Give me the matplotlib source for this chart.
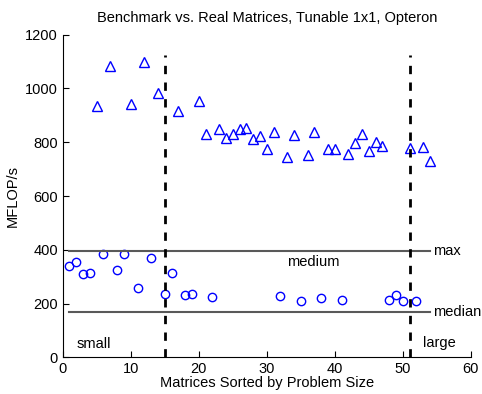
import matplotlib
matplotlib.use('Agg')
import matplotlib.pyplot as plt

plt.rcParams['font.family'] = ['Liberation Sans', 'DejaVu Sans']

# matrices where the benchmark is above / below
tri_x = [5, 7, 10, 12, 14, 17, 20, 21, 23, 24, 25, 26, 27, 28, 29, 30, 31,
         33, 34, 36, 37, 39, 40, 42, 43, 44, 45, 46, 47, 51, 53, 54]
tri_y = [935, 1082, 942, 1099, 983, 917, 955, 829, 851, 817, 832, 848, 854,
         811, 825, 775, 839, 746, 826, 754, 837, 774, 775, 757, 796, 830,
         767, 800, 786, 780, 784, 732]
circ_x = [1, 2, 3, 4, 6, 8, 9, 11, 13, 15, 16, 18, 19, 22, 32, 35, 38, 41,
          48, 49, 50, 52]
circ_y = [341, 353, 310, 312, 383, 325, 383, 257, 369, 237, 314, 232, 236,
          225, 227, 210, 220, 212, 212, 231, 211, 209]

max_val = 397
median_val = 170
splits = [15, 51]

fs = 10.5
fig = plt.figure(figsize=(4.82, 3.94), dpi=100)
ax = fig.add_axes([0.130, 0.093, 0.847, 0.819])

ax.plot(tri_x, tri_y, '^', color='blue', mfc='none', ms=7, mew=1)
ax.plot(circ_x, circ_y, 'o', color='blue', mfc='none', ms=6, mew=1)

ax.plot([1, 54], [max_val, max_val], '-', color='0.35', lw=1.5)
ax.plot([1, 54], [median_val, median_val], '-', color='0.35', lw=1.5)
for s in splits:
    ax.plot([s, s], [0, 1125], '--', color='black', lw=2, dashes=(3, 3))

ax.text(54.5, max_val, 'max', va='center', ha='left', fontsize=fs)
ax.text(54.5, median_val, 'median', va='center', ha='left', fontsize=fs)
ax.text(2, 48, 'small', va='center', ha='left', fontsize=fs)
ax.text(36.8, 355, 'medium', va='center', ha='center', fontsize=fs)
ax.text(53, 52, 'large', va='center', ha='left', fontsize=fs)

ax.set_xlim(0, 60)
ax.set_ylim(0, 1200)
ax.set_xticks(range(0, 61, 10))
ax.set_yticks(range(0, 1201, 200))
ax.tick_params(direction='in', labelsize=fs, length=4)
ax.spines['top'].set_visible(False)
ax.spines['right'].set_visible(False)

ax.set_title('Benchmark vs. Real Matrices, Tunable 1x1, Opteron', fontsize=fs,
             pad=9)
ax.set_xlabel('Matrices Sorted by Problem Size', fontsize=fs, labelpad=0)
ax.set_ylabel('MFLOP/s', fontsize=fs)

fig.savefig('out.png', dpi=100)
